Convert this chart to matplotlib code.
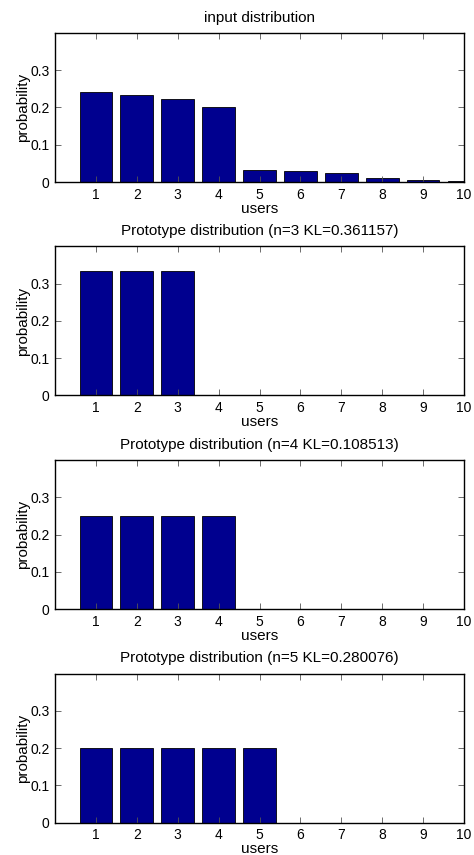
import numpy as np
import matplotlib
matplotlib.use("Agg")
import matplotlib.pyplot as plt

plt.rcParams['font.family'] = ['Liberation Sans', 'DejaVu Sans']

users = np.arange(1, 11)
input_dist = [0.2415, 0.2345, 0.2237, 0.202, 0.031, 0.0286, 0.0243, 0.0108, 0.0054, 0.002]
proto_n3 = [1/3, 1/3, 1/3, 0, 0, 0, 0, 0, 0, 0]
proto_n4 = [0.25, 0.25, 0.25, 0.25, 0, 0, 0, 0, 0, 0]
proto_n5 = [0.2, 0.2, 0.2, 0.2, 0.2, 0, 0, 0, 0, 0]

titles = ["input distribution",
          "Prototype distribution (n=3 KL=0.361157)",
          "Prototype distribution (n=4 KL=0.108513)",
          "Prototype distribution (n=5 KL=0.280076)"]
series = [input_dist, proto_n3, proto_n4, proto_n5]

W, H = 474, 855
fig = plt.figure(figsize=(W / 100, H / 100), dpi=100)

bar_col = (0, 0, 0.5625)
left, right = 55, 464
ax_h = 149
for k, (vals, ttl) in enumerate(zip(series, titles)):
    top = 33 + 213.5 * k
    ax = fig.add_axes([left / W, 1 - (top + ax_h) / H, (right - left) / W, ax_h / H])
    ax.bar(users, vals, width=0.8, color=bar_col, edgecolor='black', linewidth=0.6)
    ax.set_xlim(0, 10)
    ax.set_ylim(0, 0.4)
    ax.set_xticks(users)
    ax.set_yticks([0, 0.1, 0.2, 0.3])
    ax.set_yticklabels(['0', '0.1', '0.2', '0.3'])
    ax.tick_params(direction='in', length=4, width=0.6, top=True, right=True,
                   labelsize=10, pad=4, color='#555555')
    for s in ax.spines.values():
        s.set_linewidth(1.0)
    ax.set_title(ttl, fontsize=11, pad=8)
    ax.set_xlabel("users", fontsize=11, labelpad=0)
    ax.set_ylabel("probability", fontsize=11, labelpad=0)

fig.savefig("out.png", dpi=100)
